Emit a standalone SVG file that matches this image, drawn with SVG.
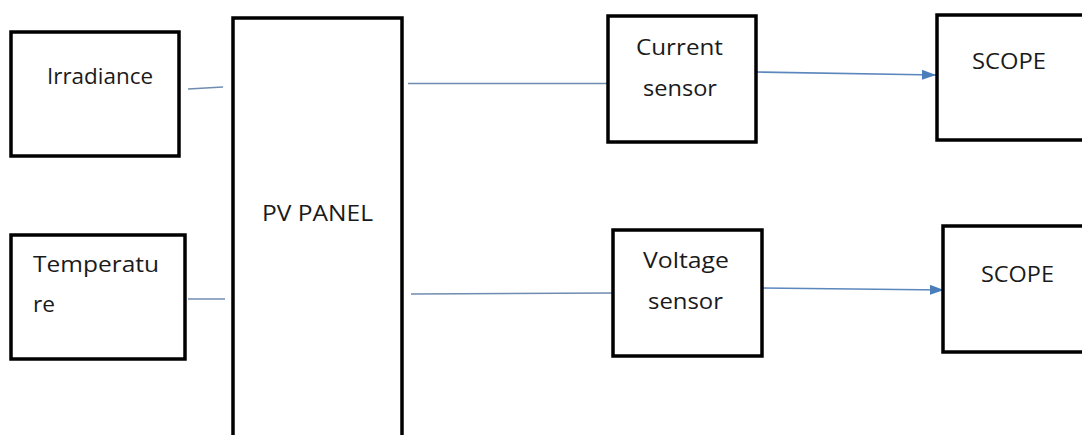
<svg xmlns="http://www.w3.org/2000/svg" width="1082" height="435" viewBox="0 0 1082 435">
<style>
.box{fill:#fff;stroke:#000;stroke-width:3.5}
.t{font-family:"Open Sans","Noto Sans",sans-serif;font-size:22px;fill:#1a1a1a}
.ln{stroke:#6f8db0;stroke-width:1.6;fill:none}
.ar{stroke:#5b87bd;stroke-width:1.6;fill:none;marker-end:url(#ah)}
</style>
<defs>
<marker id="ah" markerUnits="userSpaceOnUse" markerWidth="16" markerHeight="12" refX="14" refY="5" orient="auto">
<path d="M0,0 L14,5 L0,10 z" fill="#4a7ebb"/>
</marker>
</defs>
<rect width="1082" height="435" fill="#fff"/>
<g id="connectors">
<path class="ln" d="M188,89 L223,87"/>
<path class="ln" d="M188,299 L225,299"/>
<path class="ln" d="M408,83.5 L607,83.5"/>
<path class="ln" d="M411,294 L613,293"/>
<path class="ar" d="M756,72 L936,75"/>
<path class="ar" d="M762,288 L944,290"/>
</g>
<g id="irradiance">
<rect class="box" x="11" y="32" width="168" height="124"/>
<text class="t" x="47" y="84" textLength="106" lengthAdjust="spacingAndGlyphs">Irradiance</text>
</g>
<g id="temperature">
<rect class="box" x="11" y="235" width="174" height="124"/>
<text class="t" x="33" y="272" textLength="126" lengthAdjust="spacingAndGlyphs">Temperatu</text>
<text class="t" x="33" y="312" textLength="22" lengthAdjust="spacingAndGlyphs">re</text>
</g>
<g id="pv-panel">
<rect class="box" x="233" y="18" width="169" height="440"/>
<text class="t" x="262" y="221" textLength="111" lengthAdjust="spacingAndGlyphs">PV PANEL</text>
</g>
<g id="current-sensor">
<rect class="box" x="608" y="16" width="148" height="126"/>
<text class="t" x="636" y="55" textLength="87" lengthAdjust="spacingAndGlyphs">Current</text>
<text class="t" x="643" y="96" textLength="74" lengthAdjust="spacingAndGlyphs">sensor</text>
</g>
<g id="voltage-sensor">
<rect class="box" x="613" y="230" width="149" height="126"/>
<text class="t" x="643" y="268" textLength="86" lengthAdjust="spacingAndGlyphs">Voltage</text>
<text class="t" x="648" y="309" textLength="75" lengthAdjust="spacingAndGlyphs">sensor</text>
</g>
<g id="scope-1">
<rect class="box" x="937" y="15" width="160" height="125"/>
<text class="t" x="972" y="69" textLength="74" lengthAdjust="spacingAndGlyphs">SCOPE</text>
</g>
<g id="scope-2">
<rect class="box" x="943" y="226" width="160" height="126"/>
<text class="t" x="981" y="282" textLength="73" lengthAdjust="spacingAndGlyphs">SCOPE</text>
</g>
</svg>
